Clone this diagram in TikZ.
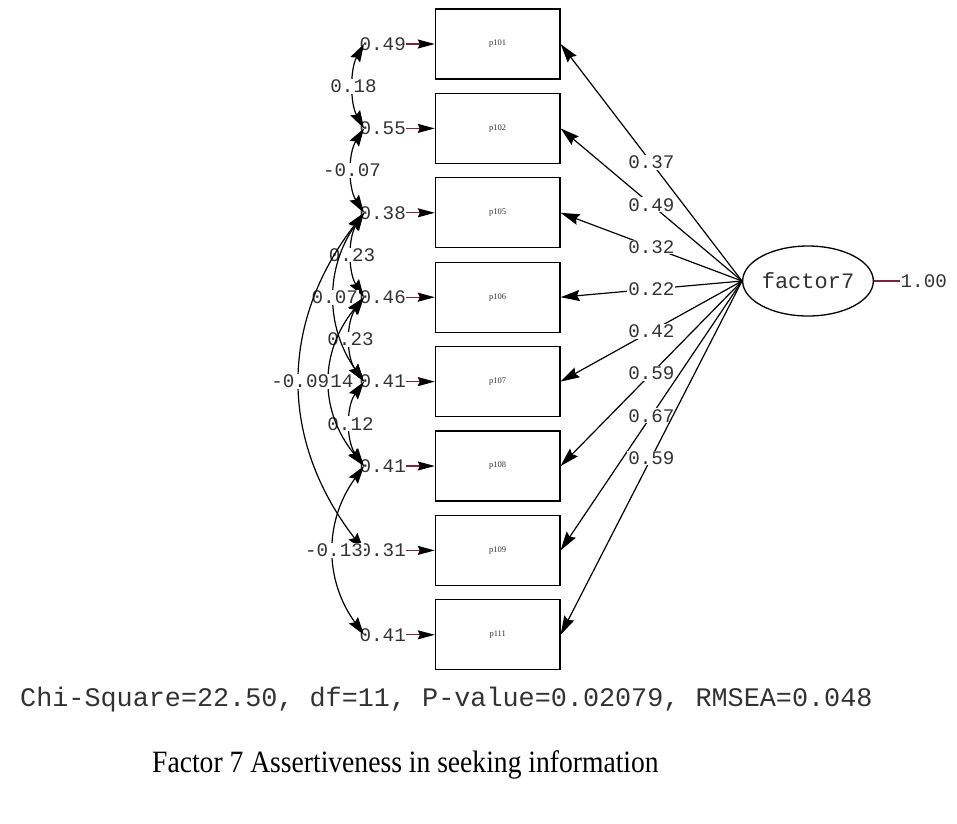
\documentclass[tikz,border=0pt]{standalone}
\usepackage{fontspec}
\usepackage{graphicx}
\setmainfont{Liberation Serif}
\newfontfamily\lismono{Liberation Mono}
\usetikzlibrary{arrows.meta,shapes.geometric}
\definecolor{ink}{RGB}{50,50,50}
\definecolor{stubred}{RGB}{125,35,60}
\tikzset{
  obsbox/.style={draw, line width=1.3pt, minimum width=124.5pt, minimum height=70pt,
    inner sep=0pt, text=ink, font=\fontsize{8.5}{9}\selectfont},
  errtxt/.style={anchor=west, inner sep=0.5pt, text=ink, font=\lismono\fontsize{19.2}{20}\selectfont},
  lbl/.style={fill=white, inner sep=0.8pt, text=ink, font=\lismono\fontsize{19.2}{20}\selectfont},
  load/.style={line width=1.2pt, -{Stealth[length=19pt,width=11pt,inset=2.5pt]}},
  stub/.style={line width=1.2pt, stubred, -{Stealth[length=17pt,width=9pt,inset=2pt,color=black]}},
  cov/.style={line width=1.2pt, {Stealth[length=18pt,width=11pt,inset=2.5pt]}-{Stealth[length=18pt,width=11pt,inset=2.5pt]}},
}
% double-headed covariance curve: from, to, horizontal bulge, vertical control reach, value
\newcommand\covar[5]{%
  \draw[cov] (#1) .. controls +(-#3,#4) and +(-#3,-#4) .. (#2) node[lbl,pos=0.5]{#5};}
\begin{document}
\begin{tikzpicture}[x=1pt,y=-1pt]
\useasboundingbox (0,0) rectangle (957,823);

% observed variables with their error variances
\foreach \i/\lab/\ev/\yy in {1/p101/0.49/44, 2/p102/0.55/128.4, 3/p105/0.38/212.8,
  4/p106/0.46/297.2, 5/p107/0.41/381.6, 6/p108/0.41/466, 7/p109/0.31/550.4, 8/p111/0.41/634.8}{
  \node[obsbox] (b\i) at (497.7,\yy) {\lab};
  \node[errtxt] (e\i) at (359,\yy) {\ev};
  \coordinate (c\i) at ([xshift=5pt]e\i.west);
  \draw[stub] (e\i.east) -- (b\i.west);
}

% latent factor
\node[ellipse, draw, line width=1.3pt, minimum width=124pt, minimum height=70pt, inner sep=0pt,
  text=ink, font=\lismono\fontsize{22}{24}\selectfont] (f) at (808,281) {factor7};
\node[errtxt] (fv) at (900,281) {1.00};
\draw[stubred, line width=1.2pt] (f.east) -- (fv.west);

% loadings
\foreach \i/\v in {1/0.37, 2/0.49, 3/0.32, 4/0.22, 5/0.42, 6/0.59, 7/0.67, 8/0.59}{
  \draw[load] (f.west) -- (b\i.east) node[lbl,pos=0.5]{\v};
}

% error covariances
\covar{c1}{c2}{14}{25}{0.18}
\covar{c2}{c3}{16}{25}{-0.07}
\covar{c3}{c4}{16}{25}{0.23}
\covar{c4}{c5}{18}{25}{0.23}
\covar{c5}{c6}{18}{25}{0.12}
\covar{c3}{c5}{39}{55}{0.07}
\covar{c4}{c6}{45}{55}{0.14}
\covar{c3}{c7}{85}{110}{-0.09}
\covar{c6}{c8}{40}{55}{-0.13}

% fit statistics and caption
\node[anchor=base west, inner sep=0pt, text=ink, font=\lismono\fontsize{26.8}{28}\selectfont]
  (fit) at (20,706) {Chi-Square=22.50, df=11, P-value=0.02079, RMSEA=0.048};
\node[anchor=base west, inner sep=0pt, font=\fontsize{31}{34}\selectfont]
  (cap) at (152,772) {\scalebox{0.89}[1]{Factor 7 Assertiveness in seeking information}};
\end{tikzpicture}
\end{document}
